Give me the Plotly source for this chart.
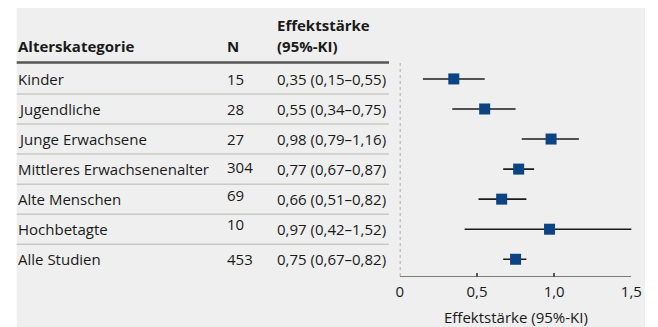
import plotly.graph_objects as go

categories = ["Kinder", "Jugendliche", "Junge Erwachsene", "Mittleres Erwachsenenalter",
              "Alte Menschen", "Hochbetagte", "Alle Studien"]
n_values = [15, 28, 27, 304, 69, 10, 453]
effect = [0.35, 0.55, 0.98, 0.77, 0.66, 0.97, 0.75]
ci_low = [0.15, 0.34, 0.79, 0.67, 0.51, 0.42, 0.67]
ci_high = [0.55, 0.75, 1.16, 0.87, 0.82, 1.52, 0.82]
tick_vals = [0, 0.5, 1.0, 1.5]
tick_text = ["0", "0,5", "1,0", "1,5"]

W, H = 658, 327
FONT = "Open Sans"
TXT = "#1a1a1a"


def px(x):
    return x / W


def py(y):
    return 1 - y / H


def fmt(v):
    return f"{v:.2f}".replace(".", ",")


rows = list(range(len(categories)))
y_top, y_bot = -0.53, 6.59
# slight upward offsets of some N labels as typeset in the original
n_raise = {3: 2, 4: 4, 5: 5}

fig = go.Figure()

for i in rows:
    fig.add_trace(go.Scatter(x=[ci_low[i], ci_high[i]], y=[i, i], mode="lines",
                             line=dict(color="#1c1c1c", width=1.6),
                             hoverinfo="skip", showlegend=False, cliponaxis=False))

fig.add_trace(go.Scatter(x=effect, y=rows, mode="markers",
                         marker=dict(symbol="square", size=11, color="#0b4383"),
                         showlegend=False, cliponaxis=False))

shapes = []
shapes.append(dict(type="rect", xref="paper", yref="paper", x0=px(13), x1=px(656),
                   y0=0, y1=py(8), fillcolor="#efefef", line=dict(width=0), layer="below"))
shapes.append(dict(type="line", xref="paper", yref="paper", x0=px(13), x1=px(394),
                   y0=py(62.5), y1=py(62.5), line=dict(color="#555555", width=2.5)))
for i in rows[:-1]:
    shapes.append(dict(type="line", xref="paper", yref="y", x0=px(13), x1=px(394),
                       y0=i + 0.5, y1=i + 0.5, line=dict(color="#cacac4", width=1.5)))
shapes.append(dict(type="line", xref="x", yref="y", x0=0, x1=0, y0=y_top, y1=y_bot,
                   line=dict(color="#9a9a9a", width=1.5, dash="dot")))
shapes.append(dict(type="line", xref="x", yref="y", x0=0, x1=1.5, y0=y_bot, y1=y_bot,
                   line=dict(color="#555555", width=1.5)))

annotations = []
SZ = 15
hdr_font = dict(family=FONT, size=SZ, color=TXT)
PAD = 3
annotations.append(dict(text="<b>Alterskategorie</b>", xref="paper", yref="paper",
                        x=px(15 - PAD), y=py(46), xanchor="left", yanchor="middle",
                        showarrow=False, font=hdr_font))
annotations.append(dict(text="<b>N</b>", xref="paper", yref="paper",
                        x=px(229 - PAD), y=py(46), xanchor="left", yanchor="middle",
                        showarrow=False, font=hdr_font))
annotations.append(dict(text="<b>Effektstärke</b>", xref="paper", yref="paper",
                        x=px(280 - PAD), y=py(25), xanchor="left", yanchor="middle",
                        showarrow=False, font=hdr_font))
annotations.append(dict(text="<b>(95%-KI)</b>", xref="paper", yref="paper",
                        x=px(280 - PAD), y=py(46), xanchor="left", yanchor="middle",
                        showarrow=False, font=hdr_font))

row_font = dict(family=FONT, size=SZ, color=TXT)
for i in rows:
    annotations.append(dict(text=categories[i], xref="paper", yref="y", x=px(15 - PAD), y=i,
                            xanchor="left", yanchor="middle", showarrow=False, font=row_font))
    annotations.append(dict(text=str(n_values[i]), xref="paper", yref="y", x=px(229 - PAD), y=i,
                            xanchor="left", yanchor="middle", showarrow=False, font=row_font,
                            yshift=n_raise.get(i, 0)))
    annotations.append(dict(text=f"{fmt(effect[i])} ({fmt(ci_low[i])}–{fmt(ci_high[i])})",
                            xref="paper", yref="y", x=px(280 - PAD), y=i,
                            xanchor="left", yanchor="middle", showarrow=False, font=row_font))

annotations.append(dict(text="Effektstärke (95%-KI)", xref="paper", yref="paper",
                        x=px(524), y=py(317), xanchor="center", yanchor="middle",
                        showarrow=False, font=row_font))

x0_px, x15_px = 405, 642
fig.update_layout(
    width=W, height=H,
    margin=dict(l=0, r=0, t=0, b=0),
    paper_bgcolor="white",
    plot_bgcolor="rgba(0,0,0,0)",
    showlegend=False,
    shapes=shapes,
    annotations=annotations,
    xaxis=dict(domain=[px(x0_px), px(x15_px)], range=[0, 1.5],
               tickvals=tick_vals, ticktext=tick_text, ticks="inside", ticklen=4,
               tickcolor="#555555", tickwidth=1.5, showgrid=False, zeroline=False,
               showline=False, tickfont=dict(family=FONT, size=SZ, color=TXT),
               ticklabelstandoff=4, fixedrange=True),
    yaxis=dict(domain=[py(277), py(63)], range=[y_bot, y_top], visible=False,
               showgrid=False, zeroline=False, fixedrange=True),
)

fig.write_html("out.html", config={"displayModeBar": False},
               post_script="document.body.style.margin='0';document.body.style.overflow='hidden';")
